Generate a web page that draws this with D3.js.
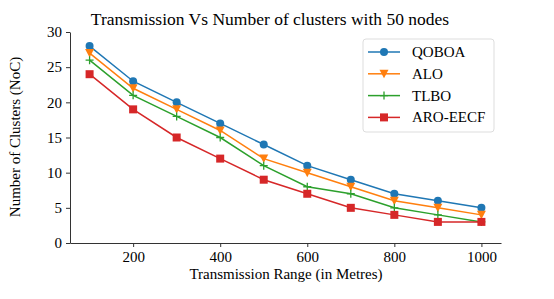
<html>
<head>
<script src="https://d3js.org/d3.v7.min.js"></script>
<style>
  body { margin: 0; background: #fff; }
  text { font-family: "Liberation Serif", "Times New Roman", serif; fill: #000; }
</style>
</head>
<body>
<script>
var ranges = [100, 200, 300, 400, 500, 600, 700, 800, 900, 1000];
var qoboa = [28, 23, 20, 17, 14, 11, 9, 7, 6, 5];
var alo = [27, 22, 19, 16, 12, 10, 8, 6, 5, 4];
var tlbo = [26, 21, 18, 15, 11, 8, 7, 5, 4, 3];
var aroEecf = [24, 19, 15, 12, 9, 7, 5, 4, 3, 3];
var seriesNames = ["QOBOA", "ALO", "TLBO", "ARO-EECF"];
var xTicks = [200, 400, 600, 800, 1000];
var yTicks = [0, 5, 10, 15, 20, 25, 30];

var colors = ["#1f77b4", "#ff7f0e", "#2ca02c", "#d62728"];
var markers = ["circle", "tri", "plus", "square"];
var seriesData = [qoboa, alo, tlbo, aroEecf];

var width = 554, height = 299;
var svg = d3.select("body").append("svg")
    .attr("width", width).attr("height", height);

var x = d3.scaleLinear().domain([55, 1045]).range([70, 501]);
var y = d3.scaleLinear().domain([0, 30]).range([243, 32]);

// axes
var xAxis = svg.append("g")
    .attr("transform", "translate(0," + y(0) + ")")
    .call(d3.axisBottom(x).tickValues(xTicks).tickFormat(d3.format("d")).tickSize(4).tickPadding(4).tickSizeOuter(0));
var yAxis = svg.append("g")
    .attr("transform", "translate(" + x(55) + ",0)")
    .call(d3.axisLeft(y).tickValues(yTicks).tickFormat(d3.format("d")).tickSize(4).tickPadding(4).tickSizeOuter(0));
svg.selectAll(".tick text").style("font-size", "15px")
    .style("font-family", '"Liberation Serif", serif');
svg.selectAll(".domain, .tick line").attr("stroke", "#333").attr("stroke-width", 1);

// lines + markers
var line = d3.line().x(function(d, i) { return x(ranges[i]); }).y(function(d) { return y(d); });

function drawMarker(g, type, cx, cy, c) {
  if (type === "circle") {
    g.append("circle").attr("cx", cx).attr("cy", cy).attr("r", 4).attr("fill", c);
  } else if (type === "square") {
    g.append("rect").attr("x", cx - 4).attr("y", cy - 4).attr("width", 8).attr("height", 8).attr("fill", c);
  } else if (type === "tri") {
    g.append("path").attr("d", "M" + (cx - 4.5) + "," + (cy - 4) + "L" + (cx + 4.5) + "," + (cy - 4) + "L" + cx + "," + (cy + 4.5) + "Z").attr("fill", c);
  } else {
    g.append("path").attr("d", "M" + (cx - 4) + "," + cy + "H" + (cx + 4) + "M" + cx + "," + (cy - 4) + "V" + (cy + 4))
      .attr("stroke", c).attr("stroke-width", 1.3);
  }
}

seriesData.forEach(function(vals, s) {
  var g = svg.append("g");
  g.append("path").datum(vals).attr("d", line)
    .attr("fill", "none").attr("stroke", colors[s]).attr("stroke-width", 1.5);
  vals.forEach(function(v, i) { drawMarker(g, markers[s], x(ranges[i]), y(v), colors[s]); });
});

// title and labels
svg.append("text").attr("x", 270).attr("y", 25).attr("text-anchor", "middle")
  .style("font-size", "17.5px").text("Transmission Vs Number of clusters with 50 nodes");
svg.append("text").attr("x", 286).attr("y", 279).attr("text-anchor", "middle")
  .style("font-size", "15px").text("Transmission Range (in Metres)");
svg.append("text").attr("transform", "translate(20,137) rotate(-90)").attr("text-anchor", "middle")
  .style("font-size", "15px").text("Number of Clusters (NoC)");

// legend
var lg = svg.append("g");
lg.append("rect").attr("x", 363).attr("y", 39).attr("width", 131).attr("height", 93).attr("rx", 3)
  .attr("fill", "#fff").attr("fill-opacity", 0.8).attr("stroke", "#ddd");
seriesNames.forEach(function(n, s) {
  var ly = 52 + s * 21.8;
  lg.append("line").attr("x1", 368).attr("x2", 400).attr("y1", ly).attr("y2", ly)
    .attr("stroke", colors[s]).attr("stroke-width", 1.5);
  drawMarker(lg, markers[s], 384, ly, colors[s]);
  lg.append("text").attr("x", 412).attr("y", ly + 5).style("font-size", "15px").text(n);
});
</script>
</body>
</html>
